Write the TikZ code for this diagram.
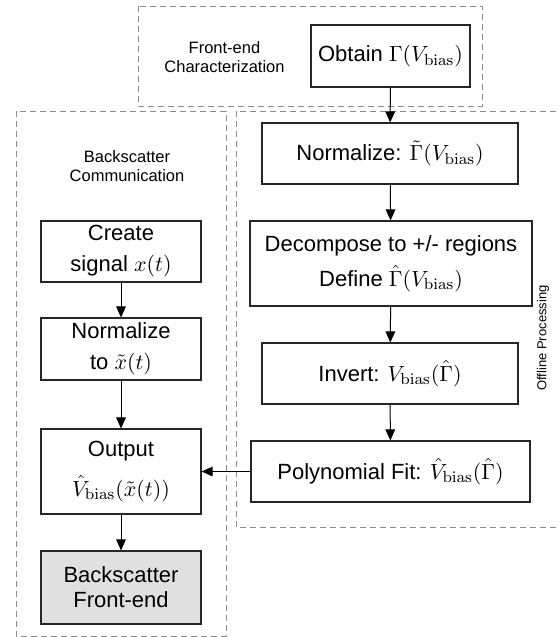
\documentclass[tikz,border=0pt]{standalone}
\usepackage[no-math]{fontspec}
\setmainfont{Liberation Sans}
\usetikzlibrary{arrows.meta}
\tikzset{block/.style={draw=black!85, line width=0.55pt, align=center, inner sep=0pt, font=\fontsize{11}{12.5}\selectfont}}
\tikzset{group/.style={draw=black!45, line width=0.45pt, dash pattern=on 3pt off 2pt}}
\tikzset{grouptext/.style={align=center, font=\fontsize{8.25}{9.5}\selectfont}}
\tikzset{flow/.style={-{Triangle[length=5.5pt, width=4.8pt]}, line width=0.5pt}}

\begin{document}
\begin{tikzpicture}[x=0.5pt, y=-0.5pt]
    \useasboundingbox (0, 0) rectangle (559, 637);
    % groups
    \draw[group] (138, 6) rectangle (482, 106);
    \draw[group] (16, 111) rectangle (226, 636);
    \draw[group] (236, 111) rectangle (570, 527);
    \node[grouptext] (charlbl) at (224.5, 57) {Front-end\\Characterization};
    \node[grouptext] (commlbl) at (127, 166) {Backscatter\\Communication};
    \node[grouptext, rotate=90, font=\fontsize{6.5}{7.5}\selectfont] (offlbl) at (543, 338) {Offline Processing};
    % offline chain
    \node[block, minimum width=79.5, minimum height=31] (obtain) at (390.5, 56) {Obtain $\Gamma(V_{\mathrm{bias}})$};
    \node[block, minimum width=128, minimum height=30.5] (normg) at (390, 153.5) {Normalize: $\tilde{\Gamma}(V_{\mathrm{bias}})$};
    \node[block, minimum width=141, minimum height=42.5] (decomp) at (391, 263.5) {Decompose to +/- regions\\[4pt]Define $\hat{\Gamma}(V_{\mathrm{bias}})$};
    \node[block, minimum width=128, minimum height=30.5] (invert) at (390, 373.5) {Invert: $V_{\mathrm{bias}}(\hat{\Gamma})$};
    \node[block, minimum width=139.5, minimum height=30.5] (polyfit) at (390.5, 471.5) {Polynomial Fit: $\hat{V}_{\mathrm{bias}}(\hat{\Gamma})$};
    % backscatter chain
    \node[block, minimum width=80, minimum height=30.5] (create) at (121, 251.5) {Create\\[3pt]signal $x(t)$};
    \node[block, minimum width=80, minimum height=31] (normx) at (121, 349) {Normalize\\[3pt]to $\tilde{x}(t)$};
    \node[block, minimum width=80, minimum height=42.5] (output) at (121, 471.5) {Output\\[6pt]$\hat{V}_{\mathrm{bias}}(\tilde{x}(t))$};
    \node[block, minimum width=80, minimum height=36.5, fill=black!12] (frontend) at (121, 587.5) {Backscatter\\Front-end};
    % arrows
    \draw[flow] (obtain) -- (normg);
    \draw[flow] (normg) -- (decomp);
    \draw[flow] (decomp) -- (invert);
    \draw[flow] (invert) -- (polyfit);
    \draw[flow] (polyfit) -- (output);
    \draw[flow] (create) -- (normx);
    \draw[flow] (normx) -- (output);
    \draw[flow] (output) -- (frontend);
\end{tikzpicture}
\end{document}
